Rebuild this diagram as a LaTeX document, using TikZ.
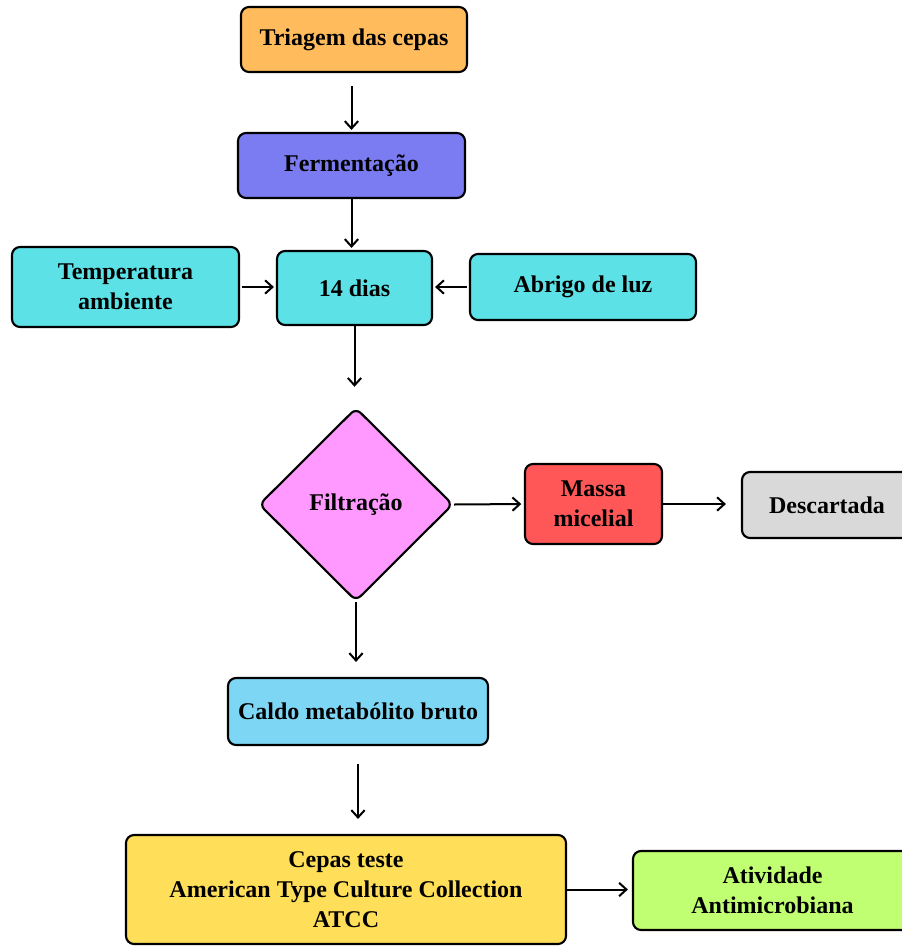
\documentclass[tikz,border=0pt]{standalone}
\usepackage{fontspec}
\setmainfont{Liberation Serif}
\usetikzlibrary{arrows.meta, shapes.geometric}

\definecolor{corTriagem}{RGB}{255,187,92}
\definecolor{corFerm}{RGB}{123,123,242}
\definecolor{corCiano}{RGB}{92,225,230}
\definecolor{corFiltro}{RGB}{255,153,255}
\definecolor{corMassa}{RGB}{255,87,87}
\definecolor{corDescarte}{RGB}{217,217,217}
\definecolor{corCaldo}{RGB}{126,214,245}
\definecolor{corCepas}{RGB}{255,222,89}
\definecolor{corAtiv}{RGB}{193,255,114}

\begin{document}
\begin{tikzpicture}[
    x=0.75pt, y=-0.75pt,
    box/.style={rectangle, draw, line width=1.6pt, rounded corners=6pt, align=center,
                font=\bfseries\fontsize{18}{22.5}\selectfont, inner sep=2pt},
    decisao/.style={diamond, draw, line width=1.6pt, rounded corners=5pt, aspect=1, inner sep=0pt,
                font=\bfseries\fontsize{18}{22.5}\selectfont, fill=corFiltro},
    arr/.style={-{Straight Barb[length=5.5pt, width=10pt]}, line width=1.5pt}
]
\useasboundingbox (0,0) rectangle (902,946);

\node[box, fill=corTriagem, minimum width=169.5pt, minimum height=48.75pt] (tri) at (354,39.5) {Triagem das cepas};
\node[box, fill=corFerm, minimum width=170.25pt, minimum height=48.75pt] (fer) at (351.5,165.5) {Fermentação};

\node[box, fill=corCiano, minimum width=116.25pt, minimum height=55.5pt] (dias) at (354.5,288) {14 dias};
\node[box, fill=corCiano, minimum width=170.25pt, minimum height=60pt] (temp) at (125.5,287) {Temperatura\\ambiente};
\node[box, fill=corCiano, minimum width=169.5pt, minimum height=49.5pt] (abr) at (583,287) {Abrigo de luz};

\node[decisao, minimum width=145.5pt, minimum height=145pt] (filt) at (356,504.5) {Filtração};
\node[box, fill=corMassa, minimum width=102.75pt, minimum height=60pt] (mas) at (593.5,504) {Massa\\micelial};
\node[box, fill=corDescarte, minimum width=127.5pt, minimum height=49.5pt] (des) at (827,505) {Descartada};

\node[box, fill=corCaldo, minimum width=195pt, minimum height=50.25pt] (cal) at (358,711.5) {Caldo metabólito bruto};
\node[box, fill=corCepas, minimum width=330pt, minimum height=81.75pt] (cep) at (346,889.5) {Cepas teste\\American Type Culture Collection\\ATCC};
\node[box, fill=corAtiv, minimum width=209.25pt, minimum height=59.25pt] (atv) at (772.5,890.5) {Atividade\\Antimicrobiana};

% setas do fluxo
\draw[arr, shorten <=9.75pt, shorten >=1.5pt] (fer.north |- tri.south) -- (fer.north);
\draw[arr, shorten >=1.5pt] (fer.south) -- (fer.south |- dias.north);
\draw[arr, shorten <=1.5pt, shorten >=1.5pt] (temp.east) -- (temp.east -| dias.west);
\draw[arr, shorten <=1.5pt, shorten >=1.5pt] (abr.west) -- (abr.west -| dias.east);
\draw[arr, shorten >=15pt] (dias.south) -- (dias.south |- filt.north);
\draw[arr, shorten >=2pt] (filt.east) -- (mas.west);
\draw[arr, shorten >=11.25pt] (mas.east) -- (mas.east -| des.west);
\draw[arr, shorten >=11.25pt] (filt.south) -- (filt.south |- cal.north);
\draw[arr, shorten <=13.5pt, shorten >=11.25pt] (cal.south) -- (cal.south |- cep.north);
\draw[arr, shorten >=3pt] (cep.east) -- (cep.east -| atv.west);
\end{tikzpicture}
\end{document}
